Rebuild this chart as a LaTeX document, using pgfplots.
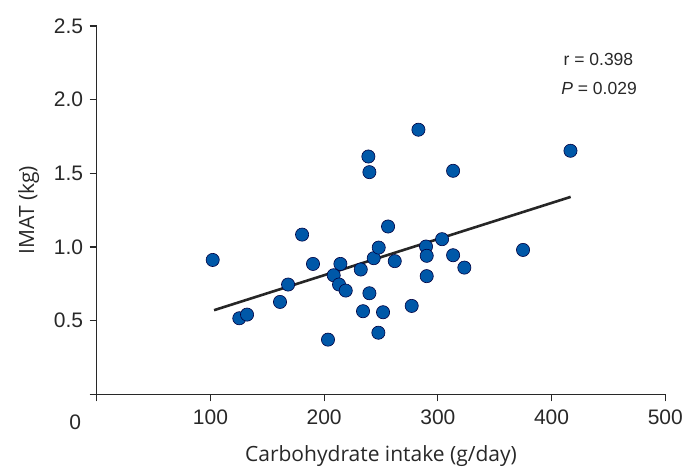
\documentclass[border=0pt]{standalone}
\usepackage{fontspec}
\setmainfont{Liberation Sans}
\newfontfamily\labelfont{Open Sans}
\usepackage{pgfplots}
\pgfplotsset{compat=1.18}
\definecolor{dotblue}{RGB}{0,88,168}
\definecolor{txt}{RGB}{40,40,40}
\begin{document}
\begin{tikzpicture}
\begin{axis}[
  scale only axis,
  width=568.6pt, height=368.3pt,
  xmin=0, xmax=500, ymin=0, ymax=2.5,
  axis lines=left,
  axis line style={-, line width=1.1pt, color=txt},
  xtick={0,100,200,300,400,500},
  xticklabels={,100,200,300,400,500},
  ytick={0,0.5,1.0,1.5,2.0,2.5},
  yticklabels={,0.5,1.0,1.5,2.0,2.5},
  tick align=outside,
  major tick length=7pt,
  tick style={line width=1.1pt, color=txt},
  tick label style={font=\fontsize{21}{25}\selectfont, color=txt},
  /pgf/number format/assume math mode=true,
  xticklabel style={yshift=-5pt},
  yticklabel style={xshift=-3pt},
  xlabel={Carbohydrate intake (g/day)},
  ylabel={IMAT (kg)},
  label style={font=\labelfont\fontsize{21}{25}\selectfont, color=txt},
  xlabel style={at={(axis description cs:0.5,0)}, anchor=center, yshift=-62pt},
  ylabel style={at={(axis description cs:0,0.5)}, anchor=center, rotate=0, yshift=68pt},
  clip=false,
]
\addplot[black!85, line width=2.6pt] coordinates {(103.2,0.571) (416.8,1.340)};
\addplot[only marks, mark=*, mark size=6.6pt,
  mark options={fill=dotblue, draw=black!75!blue, line width=0.6pt}] coordinates {
(102.0,0.912) (125.4,0.516) (132.2,0.541) (161.2,0.627) (168.3,0.745)
(180.6,1.084) (190.2,0.885) (203.4,0.371) (208.4,0.808) (214.3,0.885)
(213.1,0.745) (219.0,0.704) (232.2,0.847) (234.2,0.564) (238.9,1.614)
(239.8,1.508) (239.8,0.686) (243.6,0.924) (248.0,0.996) (247.7,0.418)
(251.8,0.557) (256.2,1.139) (262.1,0.904) (277.0,0.600) (282.9,1.796)
(289.6,1.003) (290.2,0.940) (290.2,0.802) (303.7,1.053) (313.4,0.944)
(313.4,1.517) (323.3,0.860) (374.9,0.980) (416.6,1.653)
};
\node[anchor=west, font=\fontsize{17.5}{20}\selectfont, color=txt] at (axis cs:407.5,2.271) {r = 0.398};
\node[anchor=west, font=\fontsize{17.5}{20}\selectfont, color=txt] at (axis cs:405.5,2.074) {\textit{P} = 0.029};
\node[font=\fontsize{21}{25}\selectfont, color=txt] at (axis cs:-19,-0.19) {0};
\end{axis}
\pgfresetboundingbox
\path[use as bounding box] ([shift={(-96.7pt,-72.7pt)}]current axis.south west) rectangle ([shift={(18.7pt,26pt)}]current axis.north east);
\end{tikzpicture}
\end{document}
